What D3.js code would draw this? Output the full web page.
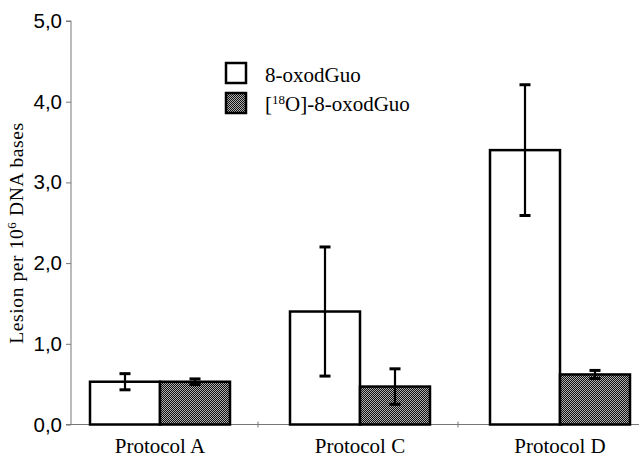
<!DOCTYPE html>
<html>
<head>
<meta charset="utf-8">
<script src="https://cdn.jsdelivr.net/npm/d3@7"></script>
<style>
  body { margin: 0; background: #fff; }
  .tick-label { font-family: "Liberation Sans", Arial, sans-serif; font-size: 20.5px; }
  .serif { font-family: "Liberation Serif", "Times New Roman", serif; }
</style>
</head>
<body>
<div id="chart"></div>
<script>
const categories = ["Protocol A", "Protocol C", "Protocol D"];
const oxodGuo = [0.53, 1.40, 3.40];
const oxodGuoErr = [0.10, 0.80, 0.81];
const labeledGuo = [0.53, 0.47, 0.62];
const labeledGuoErr = [0.035, 0.22, 0.05];
const yTicks = [0, 1, 2, 3, 4, 5];

const width = 639, height = 460;

const svg = d3.select("#chart").append("svg")
    .attr("width", width)
    .attr("height", height);

// checker fill for the [18O] bars
const defs = svg.append("defs");
const pat = defs.append("pattern")
    .attr("id", "checker")
    .attr("patternUnits", "userSpaceOnUse")
    .attr("width", 2)
    .attr("height", 2);
pat.append("rect").attr("width", 2).attr("height", 2).attr("fill", "#111");
pat.append("rect").attr("width", 1).attr("height", 1).attr("fill", "#b0b0b0");
pat.append("rect").attr("x", 1).attr("y", 1).attr("width", 1).attr("height", 1).attr("fill", "#b0b0b0");

// Scales
const y = d3.scaleLinear().domain([0, 5]).range([424.5, 21]);
const x = d3.scaleBand().domain(categories).range([60, 660]);
const barW = 70;
const axisX = 71;

// Y axis
const yAxis = svg.append("g")
    .attr("transform", `translate(${axisX},0)`)
    .call(d3.axisLeft(y).tickValues(yTicks).tickSize(5).tickPadding(4)
        .tickFormat(d => d3.format(".1f")(d).replace(".", ",")));
yAxis.select(".domain").attr("stroke", "#777").attr("d", `M-5,${y(5)}H0V${y(0)}H-5`);
yAxis.selectAll(".tick line").attr("stroke", "#777");
yAxis.selectAll(".tick text")
    .attr("class", "tick-label")
    .attr("fill", "#000");

// X axis line with ticks between categories
svg.append("line")
    .attr("x1", axisX).attr("x2", width)
    .attr("y1", y(0)).attr("y2", y(0))
    .attr("stroke", "#777");
svg.selectAll(".xsep")
    .data(categories.slice(1))
    .enter()
    .append("line")
    .attr("class", "xsep")
    .attr("x1", d => x(d) - 2).attr("x2", d => x(d) - 2)
    .attr("y1", y(0) - 3).attr("y2", y(0) + 3)
    .attr("stroke", "#777");

svg.selectAll(".xlabel")
    .data(categories)
    .enter()
    .append("text")
    .attr("class", "xlabel serif")
    .attr("x", d => x(d) + x.bandwidth() / 2)
    .attr("y", 453)
    .attr("text-anchor", "middle")
    .attr("font-size", 21)
    .text(d => d);

// Y label
const ylab = svg.append("text")
    .attr("class", "serif")
    .attr("transform", `translate(23,233) rotate(-90)`)
    .attr("text-anchor", "middle")
    .attr("font-size", 19.5)
    .attr("letter-spacing", 0.6);
ylab.append("tspan").text("Lesion per 10");
ylab.append("tspan").attr("dy", -7).attr("font-size", 13).text("6");
ylab.append("tspan").attr("dy", 7).text(" DNA bases");

// Bars
const center = d => x(d) + x.bandwidth() / 2;

svg.selectAll(".bar-oxo")
    .data(categories)
    .enter()
    .append("rect")
    .attr("class", "bar-oxo")
    .attr("x", d => center(d) - barW)
    .attr("y", (d, i) => y(oxodGuo[i]))
    .attr("width", barW)
    .attr("height", (d, i) => y(0) - y(oxodGuo[i]))
    .attr("fill", "#fff")
    .attr("stroke", "#000")
    .attr("stroke-width", 2.5);

svg.selectAll(".bar-lab")
    .data(categories)
    .enter()
    .append("rect")
    .attr("class", "bar-lab")
    .attr("x", d => center(d))
    .attr("y", (d, i) => y(labeledGuo[i]))
    .attr("width", barW)
    .attr("height", (d, i) => y(0) - y(labeledGuo[i]))
    .attr("fill", "url(#checker)")
    .attr("stroke", "#000")
    .attr("stroke-width", 2.5);

// Error bars
function errorBars(vals, errs, offset) {
    const g = svg.append("g");
    categories.forEach((c, i) => {
        const cx = center(c) + offset;
        const top = y(vals[i] + errs[i]), bot = y(vals[i] - errs[i]);
        g.append("line").attr("x1", cx).attr("x2", cx).attr("y1", top).attr("y2", bot)
            .attr("stroke", "#000").attr("stroke-width", 2.2);
        [top, bot].forEach(yy => {
            g.append("line").attr("x1", cx - 5.5).attr("x2", cx + 5.5).attr("y1", yy).attr("y2", yy)
                .attr("stroke", "#000").attr("stroke-width", 3);
        });
    });
}
errorBars(oxodGuo, oxodGuoErr, -barW / 2);
errorBars(labeledGuo, labeledGuoErr, barW / 2);

// Legend
const legend = svg.append("g").attr("transform", "translate(226,63)");
legend.append("rect")
    .attr("width", 20).attr("height", 20)
    .attr("fill", "#fff").attr("stroke", "#000").attr("stroke-width", 2.5);
legend.append("rect")
    .attr("y", 30).attr("width", 20).attr("height", 20)
    .attr("fill", "url(#checker)").attr("stroke", "#000").attr("stroke-width", 2.5);
legend.append("text")
    .attr("class", "serif")
    .attr("x", 39).attr("y", 19)
    .attr("font-size", 21)
    .text("8-oxodGuo");
const lt = legend.append("text")
    .attr("class", "serif")
    .attr("x", 39).attr("y", 48)
    .attr("font-size", 21);
lt.append("tspan").text("[");
lt.append("tspan").attr("dy", -7).attr("font-size", 13).text("18");
lt.append("tspan").attr("dy", 7).text("O]-8-oxodGuo");
</script>
</body>
</html>
